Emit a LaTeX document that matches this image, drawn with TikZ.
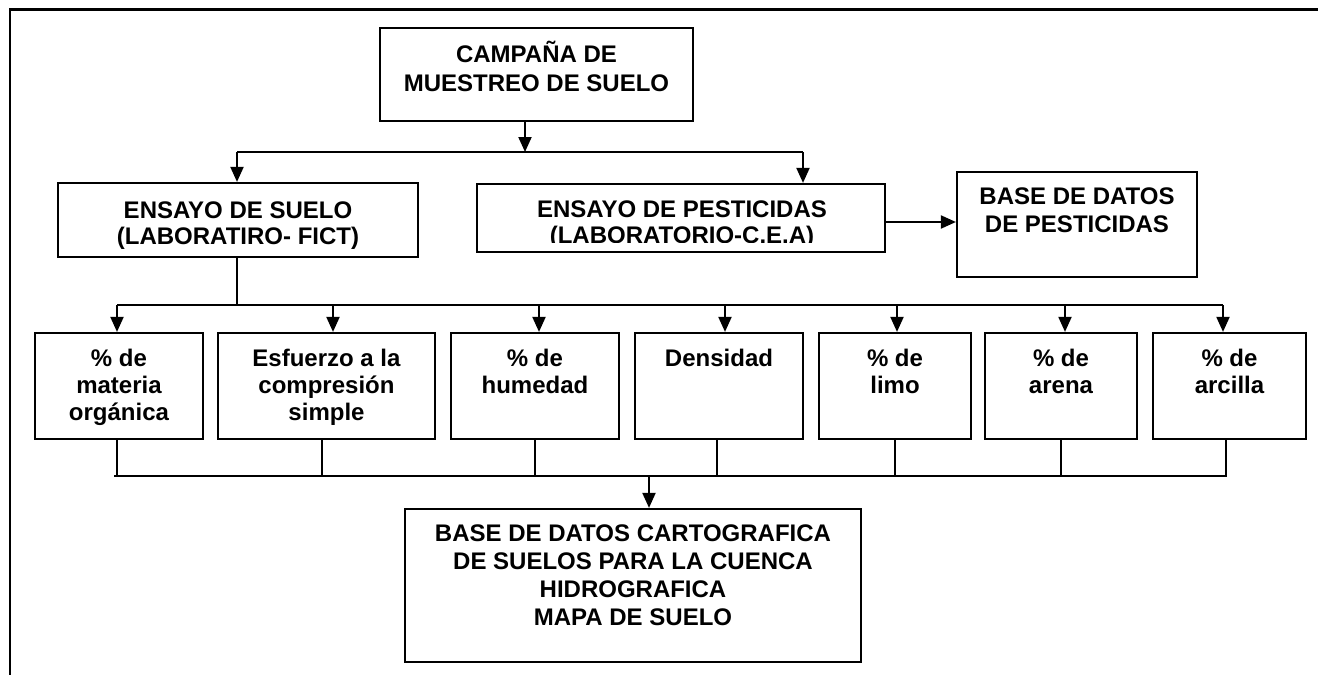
\documentclass[tikz,border=0pt]{standalone}
\usepackage{fontspec}
\setmainfont{Liberation Sans}
\usetikzlibrary{arrows.meta,calc}
\newcommand{\firststrut}{\rule{0pt}{24pt}}
\tikzset{
  boxnode/.style={draw=black, line width=2.2pt, rectangle, inner sep=0pt, fill=none},
  txt/.style={anchor=north, inner sep=0pt, align=center, font=\bfseries\fontsize{24}{27}\selectfont},
  conn/.style={line width=2pt},
  arr/.style={line width=2pt, -{Triangle[width=13pt,length=15pt]}},
}
\begin{document}
\begin{tikzpicture}[x=1pt,y=-1pt]
\useasboundingbox (0,0) rectangle (1318,675);
% outer frame (top and left only)
\coordinate (fa) at (10,675);
\coordinate (fb) at (10,9.5);
\coordinate (fc) at (1318,9.5);
\draw[line width=2.2pt] (fa) -- (fb) -- (fc);

% boxes
\node[boxnode, minimum width=313pt, minimum height=93pt] (camp) at (536.5,74.5) {};
\node[boxnode, minimum width=360pt, minimum height=74pt] (suelo) at (238,220) {};
\node[boxnode, minimum width=408pt, minimum height=68pt] (pest) at (681,218) {};
\node[boxnode, minimum width=240pt, minimum height=105pt] (basep) at (1077,224.5) {};
\node[boxnode, minimum width=168pt, minimum height=106pt] (m1) at (119,386) {};
\node[boxnode, minimum width=217pt, minimum height=106pt] (m2) at (326.5,386) {};
\node[boxnode, minimum width=168pt, minimum height=106pt] (m3) at (535,386) {};
\node[boxnode, minimum width=168pt, minimum height=106pt] (m4) at (719,386) {};
\node[boxnode, minimum width=152pt, minimum height=106pt] (m5) at (895,386) {};
\node[boxnode, minimum width=152pt, minimum height=106pt] (m6) at (1061,386) {};
\node[boxnode, minimum width=153pt, minimum height=106pt] (m7) at (1229.5,386) {};
\node[boxnode, minimum width=456pt, minimum height=153pt] (final) at (633,585.5) {};

% texts
\node[txt, font=\bfseries\fontsize{24}{29.5}\selectfont] (tcamp) at (536.5,38) {\firststrut CAMPAÑA DE\\MUESTREO DE SUELO};
\node[txt, font=\bfseries\fontsize{24}{26}\selectfont] (tsuelo) at (238,194) {\firststrut ENSAYO DE SUELO\\(LABORATIRO- FICT)};
\begin{scope}
  \clip (pest.north west) rectangle ([yshift=11pt]pest.south east);
  \node[txt, font=\bfseries\fontsize{24}{26}\selectfont] (tpest) at (682,193) {\firststrut ENSAYO DE PESTICIDAS\\(LABORATORIO-C.E.A)};
\end{scope}
\node[txt, font=\bfseries\fontsize{24}{28}\selectfont] (tbasep) at (1077,180) {\firststrut BASE DE DATOS\\DE PESTICIDAS};
\node[txt] (tm1) at (119,342.5) {\firststrut \% de\\materia\\orgánica};
\node[txt] (tm2) at (326.5,342.5) {\firststrut Esfuerzo a la\\compresión\\simple};
\node[txt] (tm3) at (535,342.5) {\firststrut \% de\\humedad};
\node[txt] (tm4) at (719,342.5) {\firststrut Densidad};
\node[txt] (tm5) at (895,342.5) {\firststrut \% de\\limo};
\node[txt] (tm6) at (1061,342.5) {\firststrut \% de\\arena};
\node[txt] (tm7) at (1229.5,342.5) {\firststrut \% de\\arcilla};
\node[txt, font=\bfseries\fontsize{24}{28}\selectfont] (tfinal) at (633,517) {\firststrut BASE DE DATOS CARTOGRAFICA\\DE SUELOS PARA LA CUENCA\\HIDROGRAFICA\\MAPA DE SUELO};

% connectors level 1
\coordinate (j0) at (525,152);
\coordinate (b1l) at (237,152);
\coordinate (b1r) at (803,152);
\draw[arr] (camp.south -| j0) -- (j0);
\draw[conn] (b1l) -- (b1r);
\draw[arr] (b1l) -- (b1l |- suelo.north);
\draw[arr] (b1r) -- (b1r |- pest.north);
\draw[arr] ([yshift=-4pt]pest.east) -- ([yshift=-4pt]pest.east -| basep.west);

% connectors level 2
\coordinate (s0) at (237,305);
\coordinate (t1) at (117,305);
\coordinate (t2) at (333,305);
\coordinate (t3) at (539,305);
\coordinate (t4) at (725,305);
\coordinate (t5) at (897,305);
\coordinate (t6) at (1065,305);
\coordinate (t7) at (1223,305);
\draw[conn] (suelo.south -| s0) -- (s0);
\draw[conn] (t1) -- (t7);
\draw[arr] (t1) -- (t1 |- m1.north);
\draw[arr] (t2) -- (t2 |- m2.north);
\draw[arr] (t3) -- (t3 |- m3.north);
\draw[arr] (t4) -- (t4 |- m4.north);
\draw[arr] (t5) -- (t5 |- m5.north);
\draw[arr] (t6) -- (t6 |- m6.north);
\draw[arr] (t7) -- (t7 |- m7.north);

% connectors level 3
\coordinate (u0) at (114,476);
\coordinate (u1) at (117,476);
\coordinate (u2) at (322,476);
\coordinate (u3) at (535,476);
\coordinate (u4) at (717,476);
\coordinate (u5) at (895,476);
\coordinate (u6) at (1061,476);
\coordinate (u7) at (1226,476);
\coordinate (uf) at (649,476);
\draw[conn] (m1.south -| u1) -- (u1);
\draw[conn] (m2.south -| u2) -- (u2);
\draw[conn] (m3.south -| u3) -- (u3);
\draw[conn] (m4.south -| u4) -- (u4);
\draw[conn] (m5.south -| u5) -- (u5);
\draw[conn] (m6.south -| u6) -- (u6);
\draw[conn] (m7.south -| u7) -- (u7);
\draw[conn] (u0) -- ([xshift=1pt]u7);
\draw[arr] (uf) -- (uf |- final.north);
\end{tikzpicture}
\end{document}
